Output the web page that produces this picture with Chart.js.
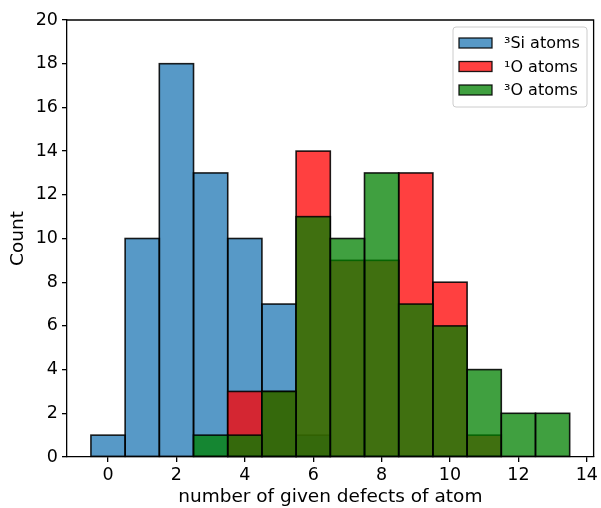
<!DOCTYPE html>
<html>
<head>
<meta charset="utf-8">
<script src="https://cdn.jsdelivr.net/npm/chart.js@4/dist/chart.umd.min.js"></script>
<style>
html,body{margin:0;padding:0;background:#fff;}
#wrap{width:601px;height:508px;position:relative;}
</style>
</head>
<body>
<div id="wrap"><canvas id="c" width="601" height="508"></canvas></div>
<script>
const bins = [0,1,2,3,4,5,6,7,8,9,10,11,12,13];
const siCounts  = [1,10,18,13,10,7,1,0,0,0,0,0,0,0];
const o1Counts  = [0,0,0,0,3,3,14,9,9,13,8,1,0,0];
const o3Counts  = [0,0,0,1,1,3,11,10,13,7,6,4,2,2];
const seriesLabels = ['\u00B3Si atoms','\u00B9O atoms','\u00B3O atoms'];
const xTicks = [0,2,4,6,8,10,12,14];
const yTicks = [0,2,4,6,8,10,12,14,16,18,20];
const xLabel = 'number of given defects of atom';
const yLabel = 'Count';

const colors = ['rgba(31,119,180,0.75)','rgba(255,0,0,0.75)','rgba(0,128,0,0.75)'];
const EDGE = 'rgba(0,0,0,0.88)';
const FONT = 'DejaVu Sans';

function pts(arr){ return bins.map((b,i)=>({x:b, y: arr[i] === 0 ? null : arr[i]})); }

// bar outlines drawn right after each dataset's faces, from the library's bar elements
const edges = {
  id:'edges',
  afterDatasetDraw(chart, args){
    const meta = args.meta;
    const ctx = chart.ctx;
    ctx.save();
    ctx.strokeStyle = EDGE; ctx.lineWidth = 1.6;
    meta.data.forEach((el, i) => {
      const v = chart.data.datasets[args.index].data[i].y;
      if (v === null) return;
      const p = el.getProps(['x','y','base','width'], true);
      ctx.strokeRect(p.x - p.width/2, p.y, p.width, p.base - p.y);
    });
    ctx.restore();
  }
};

const frame = {
  id:'frame',
  afterDraw(chart){
    const {ctx, chartArea:a} = chart;
    ctx.save();
    ctx.strokeStyle = '#000'; ctx.lineWidth = 1.3;
    ctx.beginPath();
    ctx.moveTo(a.left, a.top); ctx.lineTo(a.right, a.top); ctx.lineTo(a.right, a.bottom);
    ctx.stroke();
    const x0 = 453, y0 = 27, w = 134, h = 80;
    ctx.fillStyle = 'rgba(255,255,255,0.8)';
    ctx.strokeStyle = '#cccccc'; ctx.lineWidth = 1;
    const r = 3;
    ctx.beginPath();
    ctx.moveTo(x0+r,y0); ctx.lineTo(x0+w-r,y0); ctx.arcTo(x0+w,y0,x0+w,y0+r,r);
    ctx.lineTo(x0+w,y0+h-r); ctx.arcTo(x0+w,y0+h,x0+w-r,y0+h,r);
    ctx.lineTo(x0+r,y0+h); ctx.arcTo(x0,y0+h,x0,y0+h-r,r);
    ctx.lineTo(x0,y0+r); ctx.arcTo(x0,y0,x0+r,y0,r);
    ctx.closePath(); ctx.fill(); ctx.stroke();
    chart.data.datasets.forEach((ds,i)=>{
      const cy = 43 + i*23.5;
      ctx.fillStyle = ds.backgroundColor;
      ctx.fillRect(459, cy-5, 33, 10);
      ctx.strokeStyle = EDGE; ctx.lineWidth = 1.3;
      ctx.strokeRect(459, cy-5, 33, 10);
      ctx.fillStyle = '#000';
      ctx.font = '16px "' + FONT + '"';
      ctx.textBaseline = 'middle';
      ctx.textAlign = 'left';
      ctx.fillText(ds.label, 504, cy+1);
    });
    ctx.restore();
  }
};

const mk = (arr, i, ord) => ({
  label: seriesLabels[i],
  data: pts(arr),
  backgroundColor: colors[i],
  borderWidth: 0,
  order: ord,
  grouped: false,
  barPercentage: 1.0,
  categoryPercentage: 1.0,
  inflateAmount: 0
});

new Chart(document.getElementById('c'), {
  type: 'bar',
  data: { datasets: [ mk(siCounts,0,3), mk(o1Counts,1,2), mk(o3Counts,2,1) ] },
  options: {
    responsive: false,
    animation: false,
    devicePixelRatio: 1,
    layout: { padding: { left: 0, top: 20, right: 7, bottom: 0 } },
    plugins: { legend: { display: false }, tooltip: { enabled: false } },
    scales: {
      x: {
        type: 'linear', min: -1.2, max: 14.2, offset: false,
        afterBuildTicks: s => { s.ticks = xTicks.map(v => ({value: v})); },
        afterFit: s => { s.height = 51; },
        grid: { offset: false, drawOnChartArea: false, drawTicks: true, tickLength: 5, color: '#000', lineWidth: 1.3 },
        border: { display: true, color: '#000', width: 1.3 },
        ticks: { color: '#000', font: { family: FONT, size: 17.5 }, padding: 3, maxRotation: 0, autoSkip: false },
        title: { display: true, text: xLabel, color: '#000', font: { family: FONT, size: 18.5 }, padding: { top: 0, bottom: 0 } }
      },
      y: {
        type: 'linear', min: 0, max: 20,
        afterBuildTicks: s => { s.ticks = yTicks.map(v => ({value: v})); },
        afterFit: s => { s.width = 67; },
        grid: { drawOnChartArea: false, drawTicks: true, tickLength: 5, color: '#000', lineWidth: 1.3 },
        border: { display: true, color: '#000', width: 1.3 },
        ticks: { color: '#000', font: { family: FONT, size: 17.5 }, padding: 4, autoSkip: false },
        title: { display: true, text: yLabel, color: '#000', font: { family: FONT, size: 18.5 }, padding: { top: 7, bottom: 0 } }
      }
    }
  },
  plugins: [edges, frame]
});
</script>
</body>
</html>
